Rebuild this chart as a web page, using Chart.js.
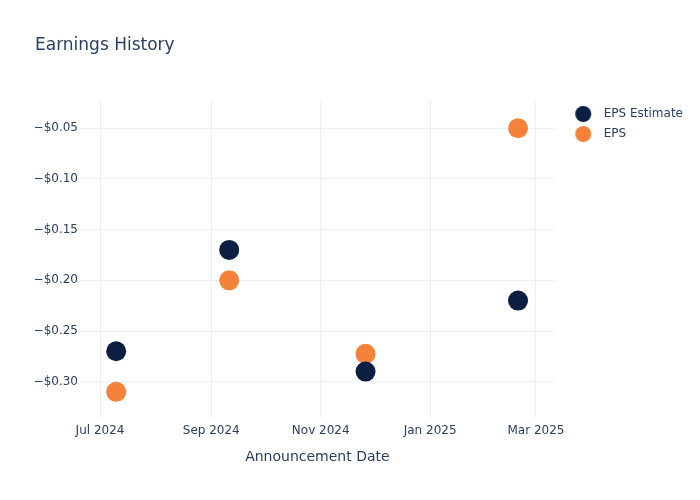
<!DOCTYPE html>
<html><head><meta charset="utf-8">
<script src="https://cdn.jsdelivr.net/npm/chart.js@4/dist/chart.umd.min.js"></script>
<style>html,body{margin:0;padding:0;background:#fff;}</style>
</head><body>
<canvas id="c" width="700" height="500"></canvas>
<script>
const announcementDates = ['2024-07-10', '2024-09-11', '2024-11-26', '2025-02-19'];
const epsEstimate = [-0.27, -0.17, -0.29, -0.22];
const epsActual = [-0.31, -0.20, -0.2725, -0.05];
const xTickDates = ['2024-07-01', '2024-09-01', '2024-11-01', '2025-01-01', '2025-03-01'];
const xTickLabels = ['Jul 2024', 'Sep 2024', 'Nov 2024', 'Jan 2025', 'Mar 2025'];
const yTickValues = [-0.30, -0.25, -0.20, -0.15, -0.10, -0.05];
const seriesNames = ['EPS Estimate', 'EPS'];
const seriesColors = ['#0c1f42', '#f5823a'];

const TEXT = '#2a3f5f';
const GRID = '#ebf0f8';
Chart.defaults.font.family = "'DejaVu Sans', Verdana, sans-serif";
Chart.defaults.color = TEXT;

function makeDot(color) {
  const c = document.createElement('canvas');
  c.width = 24; c.height = 16;
  const g = c.getContext('2d');
  g.fillStyle = color;
  g.beginPath(); g.arc(15, 8, 8, 0, Math.PI * 2); g.fill();
  return c;
}
const legendDots = seriesColors.map(makeDot);

function pts(vals) {
  return announcementDates.map((d, i) => ({x: Date.parse(d), y: vals[i]}));
}
const xTickVals = xTickDates.map(d => Date.parse(d));

new Chart(document.getElementById('c'), {
  type: 'scatter',
  data: {
    datasets: [
      {label: seriesNames[0], data: pts(epsEstimate), backgroundColor: seriesColors[0], borderWidth: 0, pointRadius: 10, pointHoverRadius: 10},
      {label: seriesNames[1], data: pts(epsActual), backgroundColor: seriesColors[1], borderWidth: 0, pointRadius: 10, pointHoverRadius: 10}
    ]
  },
  options: {
    responsive: false,
    animation: false,
    events: [],
    layout: {padding: {left: 35, right: 7, top: 0, bottom: 0}},
    plugins: {
      tooltip: {enabled: false},
      title: {
        display: true, text: 'Earnings History', align: 'start', color: TEXT,
        font: {size: 17, weight: 'normal'}, padding: {top: 35, bottom: 44.6}
      },
      legend: {
        position: 'right', align: 'start', fullSize: false,
        labels: {
          usePointStyle: true, pointStyleWidth: 35, padding: 8, color: TEXT,
          font: {size: 12},
          generateLabels(chart) {
            const items = Chart.defaults.plugins.legend.labels.generateLabels(chart);
            return items.map((it, i) => Object.assign(it, {pointStyle: legendDots[i]}));
          }
        }
      }
    },
    scales: {
      x: {
        type: 'linear',
        min: Date.UTC(2024, 5, 19, 20),
        max: Date.UTC(2025, 2, 11, 11),
        afterBuildTicks(s) { s.ticks = xTickVals.map(v => ({value: v})); },
        afterFit(s) { s.height = 82; },
        ticks: {
          autoSkip: false, maxRotation: 0, padding: 6, color: TEXT, font: {size: 12},
          callback(v) { const i = xTickVals.indexOf(v); return i >= 0 ? xTickLabels[i] : ''; }
        },
        grid: {color: GRID, drawTicks: false, lineWidth: 1},
        border: {display: false},
        title: {display: true, text: 'Announcement Date', color: TEXT, font: {size: 14}, padding: {top: 0, bottom: 34.6}}
      },
      y: {
        min: -0.3358, max: -0.0221,
        afterBuildTicks(s) { s.ticks = yTickValues.map(v => ({value: v})); },
        afterFit(s) { s.width = 45; },
        ticks: {
          padding: 2, color: TEXT, font: {size: 12},
          callback(v) { return '\u2212$' + Math.abs(v).toFixed(2); }
        },
        grid: {color: GRID, drawTicks: false, lineWidth: 1},
        border: {display: false}
      }
    }
  }
});
</script>
</body></html>
